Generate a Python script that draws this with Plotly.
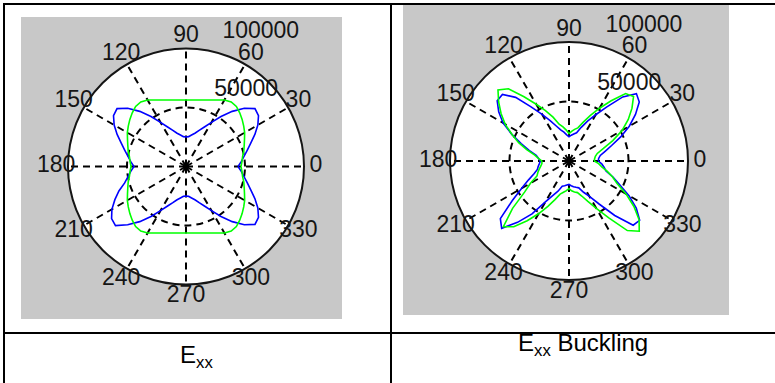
import plotly.graph_objects as go

# ---------------- data ----------------
ANGLES = list(range(0, 360, 5))  # degrees, 0..355

EXX_BLUE = [44100, 47000, 50000, 53800, 58500, 64400, 70300, 75000, 76300, 69900,
            61000, 51700, 43200, 36900, 32600, 29200, 27100, 25400, 25000,
            25400, 27100, 29200, 32600, 36900, 43200, 51700, 61000, 69900, 76300,
            75000, 70300, 64400, 58500, 53800, 50000, 47000, 44100,
            47000, 50000, 53800, 60500, 66500, 72500, 77000, 78000, 69900,
            61000, 51700, 43200, 36900, 32600, 29200, 27100, 25400, 25000,
            25400, 27100, 29200, 32600, 36900, 43200, 51700, 61000, 69900, 76300,
            75000, 70300, 64400, 58500, 53800, 50000, 47000]

EXX_GREEN = [46600, 47600, 48700, 50700, 52500, 54700, 57400, 59700, 62100, 64400,
             66400, 66800, 65100, 62200, 60000, 58300, 57200, 56600, 56400,
             56600, 57200, 58300, 60000, 62200, 65100, 66800, 66400, 64400,
             62100, 59700, 57400, 54700, 52500, 50700, 48700, 47600, 46600,
             47600, 48700, 50700, 52500, 54700, 57400, 59700, 62100, 64400,
             66400, 66800, 65100, 62200, 60000, 58300, 57200, 56600, 56400,
             56600, 57200, 58300, 60000, 62200, 65100, 66800, 66400, 64400,
             62100, 59700, 57400, 54700, 52500, 50700, 48700, 47600]

BUCK_BLUE = [24600, 25000, 26700, 31400, 38100, 47900, 58500, 68200, 77100, 80100,
             70300, 55500, 44900, 36900, 30100, 24600, 23100, 21800, 20300,
             22000, 24600, 27000, 31300, 37500, 45200, 55600, 69800, 79100,
             78800, 72100, 64000, 53000, 42800, 34700, 28000, 25800, 24100,
             25000, 26300, 27500, 31300, 37500, 45900, 58300, 75300, 80000,
             67300, 54200, 39700, 31900, 27000, 22000, 21200, 20300, 19700,
             20800, 21900, 22900, 24000, 29000, 34300, 44100, 59800, 76300,
             77500, 69000, 58200, 46800, 39300, 32200, 29900, 27600]

BUCK_GREEN = [21200, 21600, 22500, 24600, 30800, 40600, 51700, 60800, 69100, 76700,
              74000, 61800, 51200, 42000, 34500, 28800, 27000, 25000, 23100,
              26100, 29100, 32000, 39200, 46800, 55100, 65900, 79200, 84400,
              77200, 69700, 62000, 52800, 45000, 36800, 29500, 25800, 22900,
              22800, 24000, 25800, 27800, 29700, 37400, 45600, 61900, 78000,
              72200, 61300, 51200, 42000, 34500, 28800, 26700, 25000, 23100,
              25200, 26400, 27500, 31300, 37500, 45900, 58300, 76300, 83500,
              76900, 66600, 55300, 44600, 38800, 33100, 28000, 25000]

SPOKE_ANGLES = [0, 30, 60, 90, 120, 150, 180, 210, 240, 270, 300, 330]
SPOKE_LABELS = ["0", "30", "60", "90", "120", "150", "180", "210", "240", "270", "300", "330"]
RING_TICKS = [50000, 100000]
CAPTIONS = ["E<sub>xx</sub>", "E<sub>xx</sub> Buckling"]

# ---------------- layout helpers ----------------
W, H = 775, 383
FONT = "Liberation Sans, Arial, sans-serif"
RMAX = RING_TICKS[-1]
RINC = RING_TICKS[1] - RING_TICKS[0]
LABEL_R = 1.1 * RMAX          # spoke labels sit at 1.1 * rmax (MATLAB polar)
OVER = 1.2                    # overlay polar extends to 1.2 * rmax
RING_LABEL_ANGLE = 82
RING_LABEL_OFFSET = RINC / 10
PAD = "\u00a0\u00a0\u00a0"


def fx(x):
    return x / W


def fy(y):
    return 1 - y / H


def closed(v):
    return list(v) + [v[0]]


fig = go.Figure()

panels = [
    ("polar", "polar3", EXX_BLUE, EXX_GREEN),
    ("polar2", "polar4", BUCK_BLUE, BUCK_GREEN),
]

txtfont = dict(family=FONT, size=23, color="#151515")

for sub, lab, blue, green in panels:
    fig.add_trace(go.Scatterpolar(r=closed(blue), theta=closed(ANGLES), mode="lines",
                                  line=dict(color="#0000ff", width=1.6), subplot=sub,
                                  showlegend=False, hoverinfo="skip"))
    fig.add_trace(go.Scatterpolar(r=closed(green), theta=closed(ANGLES), mode="lines",
                                  line=dict(color="#00ff00", width=1.6), subplot=sub,
                                  showlegend=False, hoverinfo="skip"))
    fig.add_trace(go.Scatterpolar(r=[LABEL_R] * len(SPOKE_ANGLES), theta=SPOKE_ANGLES,
                                  text=SPOKE_LABELS, mode="text", textposition="middle center",
                                  textfont=txtfont, cliponaxis=False, subplot=lab,
                                  showlegend=False, hoverinfo="skip"))
    fig.add_trace(go.Scatterpolar(r=[t + RING_LABEL_OFFSET for t in RING_TICKS],
                                  theta=[RING_LABEL_ANGLE] * len(RING_TICKS),
                                  text=[PAD + str(t) for t in RING_TICKS],
                                  mode="text", textposition="top right",
                                  textfont=txtfont, cliponaxis=False, subplot=lab,
                                  showlegend=False, hoverinfo="skip"))


def polar_cfg(cx, cy, rad):
    return dict(
        domain=dict(x=[fx(cx - rad), fx(cx + rad)], y=[fy(cy + rad), fy(cy - rad)]),
        bgcolor="white",
        radialaxis=dict(range=[0, RMAX], tickvals=[RING_TICKS[0]], showticklabels=False,
                        ticks="", showline=False, gridcolor="black", gridwidth=1.8,
                        griddash="7px,5px"),
        angularaxis=dict(rotation=0, direction="counterclockwise", tickmode="array",
                         tickvals=SPOKE_ANGLES, showticklabels=False, ticks="",
                         showline=True, linecolor="#151515", linewidth=2,
                         gridcolor="black", gridwidth=1.8, griddash="7px,5px"),
    )


def overlay_cfg(cx, cy, rad):
    R = rad * OVER
    return dict(
        domain=dict(x=[fx(cx - R), fx(cx + R)], y=[fy(cy + R), fy(cy - R)]),
        bgcolor="rgba(0,0,0,0)",
        radialaxis=dict(range=[0, OVER * RMAX], visible=False),
        angularaxis=dict(rotation=0, direction="counterclockwise", visible=False),
    )


shapes = [
    dict(type="rect", xref="paper", yref="paper", x0=fx(21), x1=fx(342), y0=fy(319), y1=fy(17),
         fillcolor="#c8c8c8", line=dict(width=0), layer="below"),
    dict(type="rect", xref="paper", yref="paper", x0=fx(403), x1=fx(729), y0=fy(315), y1=fy(5),
         fillcolor="#c8c8c8", line=dict(width=0), layer="below"),
    dict(type="line", xref="paper", yref="paper", x0=fx(3), x1=1, y0=fy(4), y1=fy(4),
         line=dict(color="black", width=2)),
    dict(type="line", xref="paper", yref="paper", x0=fx(4), x1=fx(4), y0=fy(3), y1=0,
         line=dict(color="black", width=2)),
    dict(type="line", xref="paper", yref="paper", x0=fx(391), x1=fx(391), y0=fy(3), y1=0,
         line=dict(color="black", width=2)),
    dict(type="line", xref="paper", yref="paper", x0=fx(3), x1=1, y0=fy(333), y1=fy(333),
         line=dict(color="black", width=2)),
]

annotations = [
    dict(text=CAPTIONS[0], x=fx(196), y=fy(356), xref="paper", yref="paper",
         xanchor="center", yanchor="middle", showarrow=False,
         font=dict(family=FONT, size=24, color="black")),
    dict(text=CAPTIONS[1], x=fx(583), y=fy(344), xref="paper", yref="paper",
         xanchor="center", yanchor="middle", showarrow=False,
         font=dict(family=FONT, size=24, color="black")),
]

fig.update_layout(
    width=W, height=H, margin=dict(l=0, r=0, t=0, b=0),
    paper_bgcolor="white", plot_bgcolor="white",
    polar=polar_cfg(186, 166.5, 118),
    polar2=polar_cfg(569, 161, 119),
    polar3=overlay_cfg(186, 166.5, 118),
    polar4=overlay_cfg(569, 161, 119),
    shapes=shapes, annotations=annotations, showlegend=False,
)

fig.write_html("out.html", config={"displayModeBar": False},
               post_script="document.body.style.margin='0px';")
